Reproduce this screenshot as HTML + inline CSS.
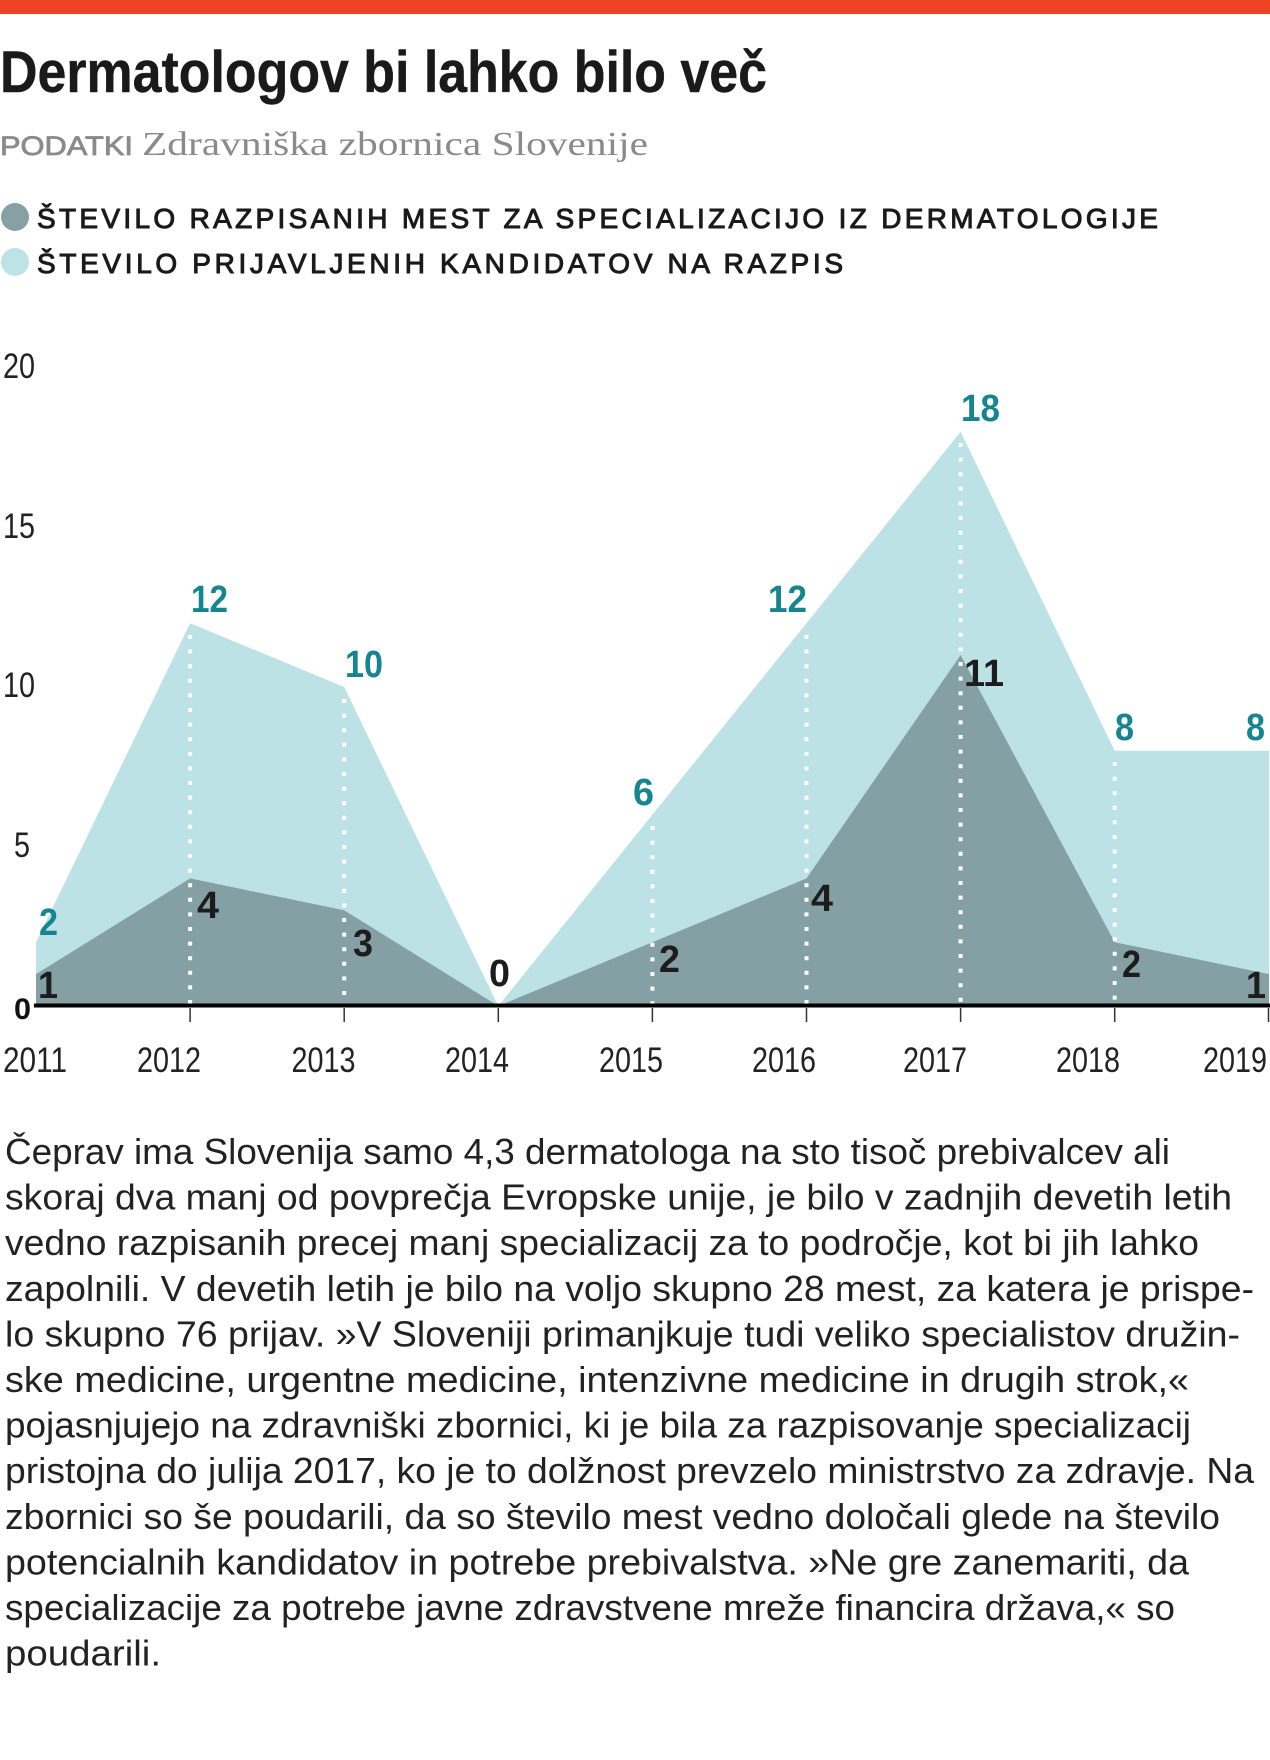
<!DOCTYPE html>
<html><head><meta charset="utf-8"><style>
html,body{margin:0;padding:0;background:#fff;}
svg{display:block;}
</style></head><body>
<svg width="1270" height="1760" viewBox="0 0 1270 1760" xmlns="http://www.w3.org/2000/svg">
<rect x="0" y="0" width="1270" height="1760" fill="#fff"/>
<rect x="0" y="0" width="1270" height="14" fill="#ee4224"/>
<text x="0" y="92" font-family="Liberation Sans, sans-serif" font-weight="bold" font-size="58" fill="#1a1a1a" stroke="#1a1a1a" stroke-width="0.4" textLength="767" lengthAdjust="spacingAndGlyphs">Dermatologov bi lahko bilo več</text>
<text x="0" y="155" font-family="Liberation Sans, sans-serif" font-size="27" fill="#8a8a8a" stroke="#8a8a8a" stroke-width="0.8" textLength="133" lengthAdjust="spacingAndGlyphs">PODATKI</text>
<text x="142" y="155" font-family="Liberation Serif, serif" font-size="34" fill="#8a8a8a" textLength="506" lengthAdjust="spacingAndGlyphs">Zdravniška zbornica Slovenije</text>

<circle cx="15" cy="217" r="14" fill="#86a0a4"/>
<circle cx="15" cy="262" r="14" fill="#bde3e7"/>
<text x="37" y="228" font-family="Liberation Sans, sans-serif" font-size="28" fill="#1a1a1a" stroke="#1a1a1a" stroke-width="1" textLength="1121" lengthAdjust="spacing">ŠTEVILO RAZPISANIH MEST ZA SPECIALIZACIJO IZ DERMATOLOGIJE</text>
<text x="37" y="273" font-family="Liberation Sans, sans-serif" font-size="28" fill="#1a1a1a" stroke="#1a1a1a" stroke-width="1" textLength="806" lengthAdjust="spacing">ŠTEVILO PRIJAVLJENIH KANDIDATOV NA RAZPIS</text>

<!-- y tick labels -->
<g font-family="Liberation Sans, sans-serif" font-size="35" fill="#222" text-anchor="end">
<text x="35" y="378" textLength="32" lengthAdjust="spacingAndGlyphs">20</text>
<text x="35" y="538" textLength="32" lengthAdjust="spacingAndGlyphs">15</text>
<text x="35" y="697" textLength="32" lengthAdjust="spacingAndGlyphs">10</text>
<text x="30" y="857" textLength="16" lengthAdjust="spacingAndGlyphs">5</text>
</g>
<text x="14" y="1019" font-family="Liberation Sans, sans-serif" font-weight="bold" font-size="30" fill="#111" textLength="17" lengthAdjust="spacingAndGlyphs">0</text>

<!-- areas -->
<polygon fill="#bce2e6" points="36,1006 36,942.2 190.1,623.2 344.2,687 498.3,1006 652.4,814.6 806.5,623.2 960.6,431.8 1114.7,750.8 1269,750.8 1269,1006"/>
<polygon fill="#84a0a4" points="36,1006 36,974.1 190.1,878.4 344.2,910.3 498.3,1006 652.4,942.2 806.5,878.4 960.6,655.1 1114.7,942.2 1269,974.1 1269,1006"/>

<!-- dotted lines -->
<g stroke="#fff" stroke-width="4" stroke-dasharray="4 10.6">
<line x1="190.1" y1="635" x2="190.1" y2="1004"/>
<line x1="344.2" y1="699" x2="344.2" y2="1004"/>
<line x1="652.4" y1="826" x2="652.4" y2="1004"/>
<line x1="806.5" y1="635" x2="806.5" y2="1004"/>
<line x1="960.6" y1="443" x2="960.6" y2="1004"/>
<line x1="1114.7" y1="762" x2="1114.7" y2="1004"/>
</g>

<!-- axis -->
<line x1="34" y1="1005.5" x2="1270" y2="1005.5" stroke="#000" stroke-width="4"/>
<g stroke="#333" stroke-width="1.5">
<line x1="190.1" y1="1008" x2="190.1" y2="1022"/>
<line x1="344.2" y1="1008" x2="344.2" y2="1022"/>
<line x1="498.3" y1="1008" x2="498.3" y2="1022"/>
<line x1="652.4" y1="1008" x2="652.4" y2="1022"/>
<line x1="806.5" y1="1008" x2="806.5" y2="1022"/>
<line x1="960.6" y1="1008" x2="960.6" y2="1022"/>
<line x1="1114.7" y1="1008" x2="1114.7" y2="1022"/>
<line x1="1268.5" y1="1008" x2="1268.5" y2="1022"/>
</g>

<!-- year labels -->
<g font-family="Liberation Sans, sans-serif" font-size="35" fill="#222" text-anchor="middle">
<text x="35" y="1072" textLength="64" lengthAdjust="spacingAndGlyphs">2011</text>
<text x="169" y="1072" textLength="64" lengthAdjust="spacingAndGlyphs">2012</text>
<text x="323.5" y="1072" textLength="64" lengthAdjust="spacingAndGlyphs">2013</text>
<text x="477" y="1072" textLength="64" lengthAdjust="spacingAndGlyphs">2014</text>
<text x="631" y="1072" textLength="64" lengthAdjust="spacingAndGlyphs">2015</text>
<text x="784" y="1072" textLength="64" lengthAdjust="spacingAndGlyphs">2016</text>
<text x="935" y="1072" textLength="64" lengthAdjust="spacingAndGlyphs">2017</text>
<text x="1088" y="1072" textLength="64" lengthAdjust="spacingAndGlyphs">2018</text>
<text x="1235" y="1072" textLength="64" lengthAdjust="spacingAndGlyphs">2019</text>
</g>

<!-- teal labels -->
<g font-family="Liberation Sans, sans-serif" font-weight="bold" font-size="38" fill="#158690">
<text x="39" y="935" textLength="19" lengthAdjust="spacingAndGlyphs">2</text>
<text x="191" y="612" textLength="37" lengthAdjust="spacingAndGlyphs">12</text>
<text x="345" y="677" textLength="38" lengthAdjust="spacingAndGlyphs">10</text>
<text x="633" y="805" textLength="21" lengthAdjust="spacingAndGlyphs">6</text>
<text x="768" y="612" textLength="39" lengthAdjust="spacingAndGlyphs">12</text>
<text x="961" y="421" textLength="39" lengthAdjust="spacingAndGlyphs">18</text>
<text x="1115" y="740" textLength="19" lengthAdjust="spacingAndGlyphs">8</text>
<text x="1246" y="740" textLength="19" lengthAdjust="spacingAndGlyphs">8</text>
</g>

<!-- dark labels -->
<g font-family="Liberation Sans, sans-serif" font-weight="bold" font-size="38" fill="#1c1c1c">
<text x="38" y="998" textLength="20" lengthAdjust="spacingAndGlyphs">1</text>
<text x="197" y="918" textLength="22" lengthAdjust="spacingAndGlyphs">4</text>
<text x="353" y="956" textLength="20" lengthAdjust="spacingAndGlyphs">3</text>
<text x="489" y="986" textLength="21" lengthAdjust="spacingAndGlyphs">0</text>
<text x="659" y="972" textLength="21" lengthAdjust="spacingAndGlyphs">2</text>
<text x="811" y="911" textLength="22" lengthAdjust="spacingAndGlyphs">4</text>
<text x="964" y="686" textLength="40" lengthAdjust="spacingAndGlyphs">11</text>
<text x="1122" y="977" textLength="19" lengthAdjust="spacingAndGlyphs">2</text>
<text x="1246" y="998" textLength="20" lengthAdjust="spacingAndGlyphs">1</text>
</g>

<!-- body text -->
<g font-family="Liberation Sans, sans-serif" font-size="36" fill="#222">
<text x="5" y="1164" textLength="1165" lengthAdjust="spacingAndGlyphs">Čeprav ima Slovenija samo 4,3 dermatologa na sto tisoč prebivalcev ali</text>
<text x="5" y="1209.6" textLength="1227" lengthAdjust="spacingAndGlyphs">skoraj dva manj od povprečja Evropske unije, je bilo v zadnjih devetih letih</text>
<text x="5" y="1255.2" textLength="1194" lengthAdjust="spacingAndGlyphs">vedno razpisanih precej manj specializacij za to področje, kot bi jih lahko</text>
<text x="5" y="1300.8" textLength="1249" lengthAdjust="spacingAndGlyphs">zapolnili. V devetih letih je bilo na voljo skupno 28 mest, za katera je prispe-</text>
<text x="5" y="1346.4" textLength="1235" lengthAdjust="spacingAndGlyphs">lo skupno 76 prijav. »V Sloveniji primanjkuje tudi veliko specialistov družin-</text>
<text x="5" y="1392" textLength="1184" lengthAdjust="spacingAndGlyphs">ske medicine, urgentne medicine, intenzivne medicine in drugih strok,«</text>
<text x="5" y="1437.6" textLength="1186" lengthAdjust="spacingAndGlyphs">pojasnjujejo na zdravniški zbornici, ki je bila za razpisovanje specializacij</text>
<text x="5" y="1483.2" textLength="1249" lengthAdjust="spacingAndGlyphs">pristojna do julija 2017, ko je to dolžnost prevzelo ministrstvo za zdravje. Na</text>
<text x="5" y="1528.8" textLength="1215" lengthAdjust="spacingAndGlyphs">zbornici so še poudarili, da so število mest vedno določali glede na število</text>
<text x="5" y="1574.4" textLength="1184" lengthAdjust="spacingAndGlyphs">potencialnih kandidatov in potrebe prebivalstva. »Ne gre zanemariti, da</text>
<text x="5" y="1620" textLength="1170" lengthAdjust="spacingAndGlyphs">specializacije za potrebe javne zdravstvene mreže financira država,« so</text>
<text x="5" y="1665.6" textLength="156" lengthAdjust="spacingAndGlyphs">poudarili.</text>
</g>
</svg>
</body></html>
